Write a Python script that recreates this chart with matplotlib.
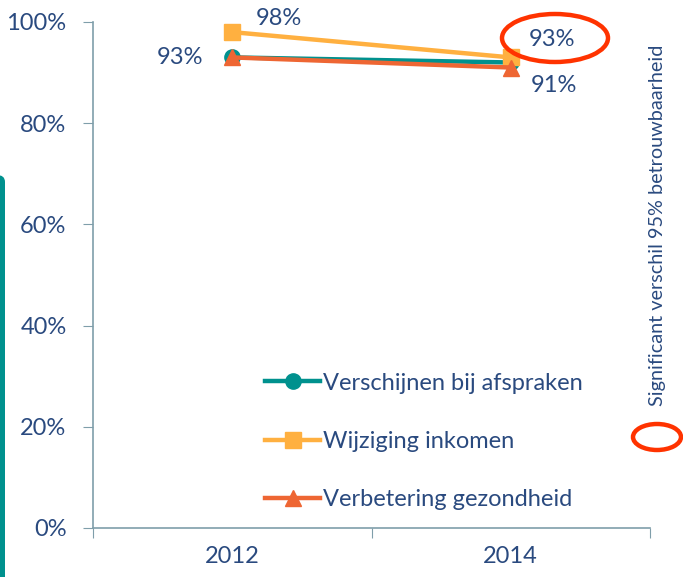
import matplotlib.pyplot as plt
from matplotlib.patches import Ellipse, FancyBboxPatch

# data
years = ['2012', '2014']
verschijnen = [93, 92]
wijziging = [98, 93]
verbetering = [93, 91]
series_names = ['Verschijnen bij afspraken', 'Wijziging inkomen', 'Verbetering gezondheid']
y_ticks = [0, 20, 40, 60, 80, 100]

text_col = '#2A4A7F'
spine_col = '#7F9EAA'

plt.rcParams['font.family'] = ['Lato', 'DejaVu Sans']

fig = plt.figure(figsize=(6.83, 5.77), dpi=100)
ax = fig.add_axes([93/683, 1-528/577, (650-93)/683, (528-22)/577])

x = range(len(years))
ax.plot(x, verschijnen, color='#00918E', lw=3.2, marker='o', ms=11, label=series_names[0], zorder=3)
ax.plot(x, wijziging, color='#FFB040', lw=3.2, marker='s', ms=11, label=series_names[1], zorder=4)
ax.plot(x, verbetering, color='#EE6633', lw=3.2, marker='^', ms=12, label=series_names[2], zorder=5)

ax.set_xlim(-0.5, 1.5)
ax.set_ylim(0, 100)
ax.set_yticks(y_ticks)
ax.set_yticklabels([f'{v}%' for v in y_ticks])
ax.set_xticks([-0.5, 0.5, 1.5])
ax.set_xticklabels([])
ax.set_xticks([0, 1], minor=True)
ax.set_xticklabels(years, minor=True)
ax.tick_params(axis='x', which='minor', length=0, pad=13, labelsize=17, labelcolor=text_col)
ax.tick_params(axis='x', which='major', length=7, color=spine_col, direction='out')
ax.tick_params(axis='y', length=7, color=spine_col, labelsize=17, labelcolor=text_col, pad=12)

for s in ['top', 'right']:
    ax.spines[s].set_visible(False)
for s in ['left', 'bottom']:
    ax.spines[s].set_color(spine_col)
    ax.spines[s].set_linewidth(1.2)

# data labels
ax.annotate(f'{verschijnen[0]}%', (0, verschijnen[0]), xytext=(-21, 0), textcoords='offset points',
            ha='right', va='center', fontsize=17, color=text_col)
ax.annotate(f'{wijziging[0]}%', (0, wijziging[0]), xytext=(17, 10), textcoords='offset points',
            ha='left', va='center', fontsize=17, color=text_col)
ax.annotate(f'{wijziging[1]}%', (1, wijziging[1]), xytext=(30, 13), textcoords='offset points',
            ha='center', va='center', fontsize=17, color=text_col)
ax.annotate(f'{verbetering[1]}%', (1, verbetering[1]), xytext=(31, -13), textcoords='offset points',
            ha='center', va='center', fontsize=17, color=text_col)

leg = ax.legend(loc='lower left', bbox_to_anchor=((265-93)/557, 0.035), frameon=False, fontsize=17,
                labelspacing=1.58, handlelength=2.35, handletextpad=0.1, borderaxespad=0, borderpad=0)
for t in leg.get_texts():
    t.set_color(text_col)

# red ellipses (pixel positions converted to figure fractions)
fig.patches.append(Ellipse((555/683, 1-38/577), 106/683, 48/577, fill=False,
                           edgecolor='#FF3300', lw=3.2, transform=fig.transFigure))
fig.patches.append(Ellipse((657/683, 1-437/577), 48/683, 26/577, fill=False,
                           edgecolor='#FF3300', lw=3.2, transform=fig.transFigure))

fig.text(657/683, 1-225/577, 'Significant verschil 95% betrouwbaarheid', rotation=90,
         ha='center', va='center', fontsize=14.3, color=text_col)

# teal decoration bar on the left edge
fig.patches.append(FancyBboxPatch((-12/683, -20/577), 17/683, 422/577, boxstyle='round,pad=0,rounding_size=0.012',
                                  facecolor='#00918E', edgecolor='none', transform=fig.transFigure))

fig.savefig('out.png', dpi=100)
